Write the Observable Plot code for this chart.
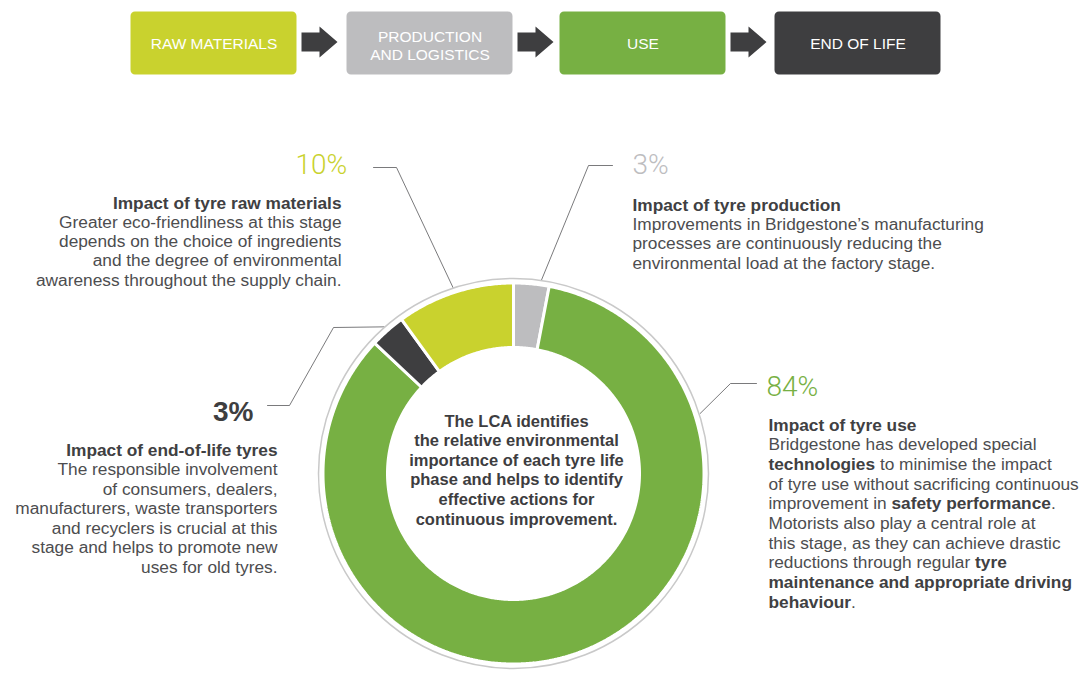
<!DOCTYPE html>
<html><head><meta charset="utf-8">
<script src="https://cdn.jsdelivr.net/npm/d3@7"></script>
<script src="https://cdn.jsdelivr.net/npm/@observablehq/plot@0.6"></script>
<style>
html,body{margin:0;padding:0;background:#fff;}
#chart svg{display:block;}
</style></head><body><div id="chart"></div>
<script>
// ---------------- data ----------------
const stages = ["RAW MATERIALS", "PRODUCTION\nAND LOGISTICS", "USE", "END OF LIFE"];
const stageColors = ["#c9d22e", "#bdbdbf", "#77b043", "#3e3e40"];
// life-cycle phases, clockwise from 12 o'clock in the donut
const phases = ["Production", "Use", "End of life", "Raw materials"];
const phaseStage = [1, 2, 3, 0];
const shares = [3, 84, 3, 10];
const titles = [
  "Impact of tyre production",
  "Impact of tyre use",
  "Impact of end-of-life tyres",
  "Impact of tyre raw materials"
];
const bodyProduction = [
  "Improvements in Bridgestone’s manufacturing",
  "processes are continuously reducing the",
  "environmental load at the factory stage."
];
const bodyUse = [
  "Bridgestone has developed special",
  "**technologies** to minimise the impact",
  "of tyre use without sacrificing continuous",
  "improvement in **safety performance**.",
  "Motorists also play a central role at",
  "this stage, as they can achieve drastic",
  "reductions through regular **tyre**",
  "**maintenance and appropriate driving**",
  "**behaviour**."
];
const bodyEndOfLife = [
  "The responsible involvement",
  "of consumers, dealers,",
  "manufacturers, waste transporters",
  "and recyclers is crucial at this",
  "stage and helps to promote new",
  "uses for old tyres."
];
const bodyRaw = [
  "Greater eco-friendliness at this stage",
  "depends on the choice of ingredients",
  "and the degree of environmental",
  "awareness throughout the supply chain."
];
const bodies = [bodyProduction, bodyUse, bodyEndOfLife, bodyRaw];
const centerText = [
  "The LCA identifies",
  "the relative environmental",
  "importance of each tyre life",
  "phase and helps to identify",
  "effective actions for",
  "continuous improvement."
];

// ---------------- layout ----------------
const W = 1089, H = 675;
const FONT = "'Liberation Sans', Arial, Helvetica, sans-serif";
const donut = {cx: 513, cy: 473, rOuter: 190.5, rInner: 126, rRing: 195};
const boxLayout = {x1: [129, 345, 558, 773], width: 169, y1: 10, y2: 76};
const arrowLayout = {x0: [301, 517, 730], y: 41.5,
  shape: [[0,-9.5],[18,-9.5],[18,-15.5],[36,0],[18,15.5],[18,9.5],[0,9.5],[0,-9.5]]};
const labelLayout = [
  {x: 632, anchor: "start", pctX: 632, pctAnchor: "start", pctY: 173, titleY: 210, lh: 19.4, at: 0.745, r: 193, elbow: [[588,165],[612,165]]},
  {x: 768, anchor: "start", pctX: 766, pctAnchor: "start", pctY: 395, titleY: 430, lh: 19.7, at: 0.203, r: 196, elbow: [[730,383],[756,383]]},
  {x: 277, anchor: "end",   pctX: 253, pctAnchor: "end",   pctY: 420, titleY: 455, lh: 19.5, at: 0.5, r: 195.5, elbow: [[333,327],[289,405],[267,405]]},
  {x: 341, anchor: "end",   pctX: 295, pctAnchor: "start", pctY: 173, titleY: 208, lh: 19.3, at: 0.5, r: 195, elbow: [[396,167],[373,167]]}
];

// ---------------- derived geometry ----------------
const phaseRows = phases.map((p, i) => ({phase: p, stage: stages[phaseStage[i]], share: shares[i], i}));
const arcs = d3.pie().sort(null).value(d => d.share)(phaseRows);
const polar = (a, r) => [donut.cx + r * Math.sin(a), donut.cy - r * Math.cos(a)];

const slicePts = arcs.flatMap(a => {
  const n = Math.max(2, Math.ceil((a.endAngle - a.startAngle) / (Math.PI / 360)));
  const outer = d3.range(n + 1).map(k => a.startAngle + (a.endAngle - a.startAngle) * k / n);
  const pts = [
    ...outer.map(t => polar(t, donut.rOuter)),
    ...outer.slice().reverse().map(t => polar(t, donut.rInner))
  ];
  pts.push(pts[0]);
  return pts.map(([x, y]) => ({x, y, phase: a.data.phase, stage: a.data.stage}));
});

const leaderPts = arcs.flatMap((a, i) => {
  const L = labelLayout[i];
  const t = a.startAngle + (a.endAngle - a.startAngle) * L.at;
  return [polar(t, L.r), ...L.elbow].map(([x, y]) => ({x, y, phase: a.data.phase}));
});

const arrowPts = arrowLayout.x0.flatMap((x0, j) =>
  arrowLayout.shape.map(([dx, dy]) => ({x: x0 + dx, y: arrowLayout.y + dy, k: j})));

// ---------------- marks ----------------
const TXT = 17.3;
const textMarks = phaseRows.flatMap((d, i) => {
  const L = labelLayout[i];
  const bold = i === 2;
  return [
    Plot.text([d], {x: () => L.pctX, y: () => L.pctY, text: r => r.share + "%", fill: "stage",
      textAnchor: L.pctAnchor, lineAnchor: "bottom", fontSize: 28,
      fontWeight: bold ? "bold" : 300, fontFamily: bold ? FONT : "Roboto, " + FONT}),
    Plot.text([titles[i]], {x: () => L.x, y: () => L.titleY, text: t => t,
      textAnchor: L.anchor, lineAnchor: "bottom", fontSize: TXT, fontWeight: "bold", fill: "#404042"}),
    Plot.text(bodies[i], {x: () => L.x, y: (t, k) => L.titleY + (k + 1) * L.lh, text: t => t,
      textAnchor: L.anchor, lineAnchor: "bottom", fontSize: TXT, fill: "#4d4d4f"})
  ];
});

const plot = Plot.plot({
  width: W, height: H, margin: 0,
  x: {domain: [0, W], range: [0, W], axis: null},
  y: {domain: [0, H], range: [0, H], axis: null},
  color: {domain: stages, range: stageColors},
  style: {fontFamily: FONT, background: "#fff", overflow: "visible"},
  marks: [
    // stage boxes
    Plot.rect(stages, {x1: (d, i) => boxLayout.x1[i], x2: (d, i) => boxLayout.x1[i] + boxLayout.width,
      y1: () => boxLayout.y1, y2: () => boxLayout.y2, fill: d => d, stroke: "white", strokeWidth: 3,
      rx: 6, ariaLabel: "stage-box"}),
    Plot.line(arrowPts, {x: "x", y: "y", z: "k", fill: "#3e3e40", stroke: "none"}),
    Plot.text(stages, {x: (d, i) => boxLayout.x1[i] + boxLayout.width / 2,
      y: d => d.includes("\n") ? 45 : 43, text: d => d, fill: "white", fontSize: 15.5, lineHeight: 1.18}),
    // leader lines
    Plot.line(leaderPts, {x: "x", y: "y", z: "phase", stroke: "#58585a", strokeWidth: 0.8}),
    // donut rim
    Plot.dot([donut], {x: "cx", y: "cy", r: donut.rRing, fill: "white", stroke: "#c9c9c9",
      strokeWidth: 1.5, ariaLabel: "donut-rim"}),
    // slices
    Plot.line(slicePts, {x: "x", y: "y", z: "phase", fill: "stage", stroke: "white",
      strokeWidth: 3, strokeLinejoin: "miter", curve: "linear"}),
    // center text
    Plot.text(centerText, {x: () => 516, y: (t, k) => 426 + k * 19.6, text: t => t,
      textAnchor: "middle", lineAnchor: "bottom", fontSize: 16.5, fontWeight: "bold", fill: "#3d3d3f"}),
    ...textMarks
  ]
});

// soft shadows & inline bold runs
plot.querySelectorAll('[aria-label="stage-box"]').forEach(g => g.style.filter = "drop-shadow(0 1px 2px rgba(0,0,0,0.30))");
plot.querySelectorAll('[aria-label="donut-rim"]').forEach(g => g.style.filter = "drop-shadow(0 1.5px 3px rgba(0,0,0,0.35))");
plot.querySelectorAll("text").forEach(t => {
  if (!t.textContent.includes("**")) return;
  const parts = t.textContent.split("**");
  t.textContent = "";
  parts.forEach((p, k) => {
    if (!p) return;
    const s = document.createElementNS("http://www.w3.org/2000/svg", "tspan");
    s.textContent = p;
    if (k % 2) { s.setAttribute("font-weight", "bold"); s.setAttribute("fill", "#404042"); }
    t.appendChild(s);
  });
});
document.getElementById("chart").appendChild(plot);
</script>
</body></html>
